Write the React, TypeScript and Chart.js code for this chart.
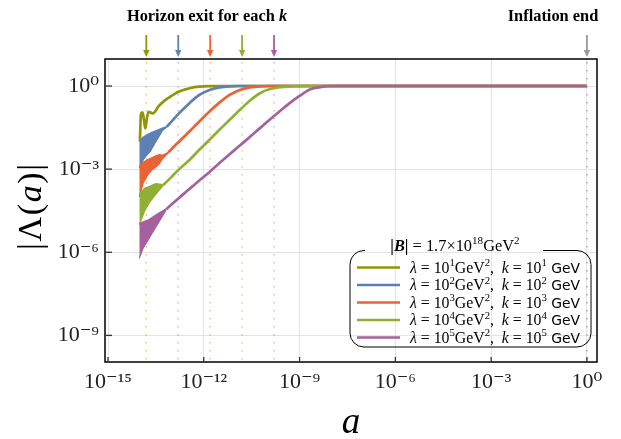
import React, { useEffect, useRef } from "react";
import { Chart, registerables } from "chart.js";

Chart.register(...registerables);

// ---------- data (log10 values) ----------
const COLORS = ["#929600", "#5E81B5", "#EB6235", "#8FB032", "#A5609D"];
const LAMBDA_EXP = ["1", "2", "3", "4", "5"];
const K_EXP = ["1", "2", "3", "4", "5"];
const B_FIELD = "1.7×10";
const B_EXP = "18";
const HORIZON_EXIT = [-13.8, -12.8, -11.8, -10.8, -9.8]; // log10 a
const INFLATION_END = 0; // log10 a

const X_TICKS = [-15, -12, -9, -6, -3, 0];
const Y_TICKS = [0, -3, -6, -9];
const X_RANGE = [-15.094, 0.315];
const Y_RANGE = [-9.96, 0.975];

// k = 10^1
const oliveX = [-14.0, -13.97, -13.92, -13.87, -13.83, -13.78, -13.73, -13.66, -13.59, -13.5, -13.43, -13.3, -13.2, -13.08, -12.92, -12.77, -12.6, -12.45, -12.3, -12.14, -11.82, -11.5, 0];
const oliveY = [-2.0, -1.02, -0.95, -1.25, -1.53, -1.15, -0.93, -0.96, -0.99, -0.88, -0.75, -0.6, -0.5, -0.41, -0.29, -0.2, -0.13, -0.08, -0.04, -0.02, -0.005, 0, 0];

// k = 10^2
const blueX = [-13.16, -13.08, -12.77, -12.45, -12.14, -11.82, -11.51, -11.19, -10.87, -10.5, 0];
const blueY = [-1.47, -1.37, -0.98, -0.62, -0.32, -0.14, -0.05, -0.01, 0, 0, 0];
const blueBandX = [-14.02, -13.9, -13.79, -13.68, -13.47, -13.3, -13.16];
const blueBandUp = [-1.97, -1.85, -1.77, -1.7, -1.6, -1.52, -1.46];
const blueBandLo = [-2.97, -2.67, -2.5, -2.37, -1.95, -1.62, -1.48];

// k = 10^3
const orangeX = [-13.11, -13.08, -12.77, -12.45, -12.14, -11.82, -11.51, -11.19, -10.87, -10.56, -10.24, -9.93, -9.5, 0];
const orangeY = [-2.4, -2.36, -2.0, -1.64, -1.28, -0.92, -0.6, -0.32, -0.14, -0.05, -0.01, 0, 0, 0];
const orangeBandX = [-14.02, -13.9, -13.75, -13.6, -13.47, -13.38, -13.3, -13.11];
const orangeBandUp = [-2.91, -2.75, -2.65, -2.57, -2.5, -2.48, -2.5, -2.39];
const orangeBandLo = [-4.0, -3.51, -3.2, -3.0, -2.9, -2.78, -2.64, -2.41];

// k = 10^4
const greenX = [-13.28, -13.08, -12.77, -12.45, -12.14, -11.82, -11.51, -11.19, -10.87, -10.56, -10.24, -9.93, -9.61, -9.3, -8.98, -8.5, 0];
const greenY = [-3.58, -3.36, -3.0, -2.67, -2.3, -1.94, -1.58, -1.22, -0.86, -0.53, -0.26, -0.11, -0.04, -0.01, 0, 0, 0];
const greenBandX = [-14.02, -13.84, -13.7, -13.5, -13.28];
const greenBandUp = [-3.88, -3.68, -3.62, -3.52, -3.56];
const greenBandLo = [-5.02, -4.48, -4.2, -3.9, -3.6];

// k = 10^5
const purpleX = [-13.18, -13.08, -12.77, -12.45, -12.14, -11.82, -11.51, -11.19, -10.87, -10.56, -10.24, -9.93, -9.61, -9.3, -9.0, -8.66, -8.35, -8.03, 0];
const purpleY = [-4.45, -4.35, -4.03, -3.72, -3.41, -3.1, -2.78, -2.46, -2.15, -1.84, -1.52, -1.21, -0.9, -0.61, -0.36, -0.12, -0.04, 0, 0];
const purpleBandX = [-14.02, -13.9, -13.75, -13.43, -13.18];
const purpleBandUp = [-4.96, -4.9, -4.84, -4.6, -4.43];
const purpleBandLo = [-6.22, -5.85, -5.56, -4.95, -4.47];

const SERIES = [
  { x: oliveX, y: oliveY, band: null as null | number[][] },
  { x: blueX, y: blueY, band: [blueBandX, blueBandUp, blueBandLo] },
  { x: orangeX, y: orangeY, band: [orangeBandX, orangeBandUp, orangeBandLo] },
  { x: greenX, y: greenY, band: [greenBandX, greenBandUp, greenBandLo] },
  { x: purpleX, y: purpleY, band: [purpleBandX, purpleBandUp, purpleBandLo] },
];

// ---------- helpers ----------
const SERIF = '"Liberation Serif", "DejaVu Serif", serif';
const SANS = '"DejaVu Sans", "Noto Sans", sans-serif';
const SUP: Record<string, string> = { "0": "⁰", "1": "¹", "2": "²", "3": "³", "4": "⁴", "5": "⁵", "6": "⁶", "7": "⁷", "8": "⁸", "9": "⁹", "-": "⁻" };
const toSup = (s: string) => s.split("").map((c) => SUP[c] || c).join("");
const pts = (xs: number[], ys: number[]) => xs.map((lx, i) => ({ x: Math.pow(10, lx), y: Math.pow(10, ys[i]) }));

function rgba(hex: string, a: number) {
  const n = parseInt(hex.slice(1), 16);
  return `rgba(${(n >> 16) & 255},${(n >> 8) & 255},${n & 255},${a})`;
}

type Seg = { t: string; s?: string; sup?: boolean; sans?: boolean };
function segFont(seg: Seg, size: number) {
  const sz = seg.sup ? size * 0.68 : size;
  const st = seg.s === "i" ? "italic " : seg.s === "b" ? "bold " : seg.s === "bi" ? "italic bold " : "";
  return `${st}${sz}px ${seg.sans ? SANS : SERIF}`;
}
function drawRich(ctx: CanvasRenderingContext2D, segs: Seg[], x: number, y: number, size: number, align: string, gap = 0, color = "#000") {
  let total = 0;
  const widths = segs.map((sg) => {
    ctx.font = segFont(sg, sg.sans ? size * 0.88 : size);
    const w = ctx.measureText(sg.t).width + gap;
    total += w;
    return w;
  });
  total -= gap;
  let cx = align === "center" ? x - total / 2 : align === "right" ? x - total : x;
  ctx.fillStyle = color;
  ctx.textBaseline = "alphabetic";
  ctx.textAlign = "left";
  segs.forEach((sg, i) => {
    ctx.font = segFont(sg, sg.sans ? size * 0.88 : size);
    ctx.fillText(sg.t, cx, sg.sup ? y - size * 0.4 : y);
    cx += widths[i];
  });
  return total;
}

const decorPlugin = {
  id: "decor",
  beforeDatasetsDraw(chart: any) {
    const { ctx, chartArea: ca, scales } = chart;
    const xs = scales.x;
    ctx.save();
    ctx.lineWidth = 1.4;
    ctx.setLineDash([1.4, 6.6]);
    HORIZON_EXIT.forEach((e, i) => {
      const px = xs.getPixelForValue(Math.pow(10, e));
      ctx.strokeStyle = rgba(COLORS[i], 0.5);
      ctx.beginPath();
      ctx.moveTo(px, ca.top + 3);
      ctx.lineTo(px, ca.bottom);
      ctx.stroke();
    });
    const pe = xs.getPixelForValue(Math.pow(10, INFLATION_END));
    ctx.strokeStyle = "rgba(140,140,140,0.75)";
    ctx.beginPath();
    ctx.moveTo(pe, ca.top + 3);
    ctx.lineTo(pe, ca.bottom);
    ctx.stroke();
    ctx.restore();
  },
  afterDraw(chart: any) {
    const { ctx, chartArea: ca, scales } = chart;
    const xs = scales.x;
    const ys = scales.y;
    ctx.save();
    // frame
    ctx.strokeStyle = "#000";
    ctx.lineWidth = 1.5;
    ctx.setLineDash([]);
    ctx.strokeRect(ca.left, ca.top, ca.right - ca.left, ca.bottom - ca.top);
    // inner ticks
    ctx.strokeStyle = "#333";
    ctx.lineWidth = 1.3;
    X_TICKS.forEach((e) => {
      const px = xs.getPixelForValue(Math.pow(10, e));
      ctx.beginPath();
      ctx.moveTo(px, ca.bottom);
      ctx.lineTo(px, ca.bottom - 5);
      ctx.stroke();
    });
    Y_TICKS.forEach((e) => {
      const py = ys.getPixelForValue(Math.pow(10, e));
      ctx.beginPath();
      ctx.moveTo(ca.left, py);
      ctx.lineTo(ca.left + 7, py);
      ctx.stroke();
    });
    // arrows
    const arrow = (px: number, color: string) => {
      ctx.strokeStyle = color;
      ctx.fillStyle = color;
      ctx.lineWidth = 1.8;
      ctx.beginPath();
      ctx.moveTo(px, 35);
      ctx.lineTo(px, 51);
      ctx.stroke();
      ctx.beginPath();
      ctx.moveTo(px - 3.2, 50);
      ctx.lineTo(px + 3.2, 50);
      ctx.lineTo(px, 57);
      ctx.closePath();
      ctx.fill();
    };
    HORIZON_EXIT.forEach((e, i) => arrow(xs.getPixelForValue(Math.pow(10, e)), COLORS[i]));
    arrow(xs.getPixelForValue(Math.pow(10, INFLATION_END)), "#999999");
    // titles
    drawRich(ctx, [{ t: "Horizon exit for each ", s: "b" }, { t: "k", s: "bi" }], 207, 21, 16.4, "center");
    drawRich(ctx, [{ t: "Inflation end", s: "b" }], 553, 21, 16.4, "center");
    // axis titles
    drawRich(ctx, [{ t: "a", s: "i" }], (ca.left + ca.right) / 2, 433, 37, "center");
    ctx.save();
    ctx.translate(31, 207);
    ctx.rotate(-Math.PI / 2);
    drawRich(ctx, [{ t: "|" }, { t: "Λ" }, { t: "(" }, { t: "a", s: "i" }, { t: ")" }, { t: "|" }], 0, 10, 34, "center", 1.6);
    ctx.restore();
    // legend
    const L = 350, R = 591, T = 250.5, B = 347, r = 14;
    const gapL = 365, gapR = 543;
    ctx.strokeStyle = "#000";
    ctx.lineWidth = 1;
    ctx.beginPath();
    ctx.moveTo(gapL, T);
    ctx.lineTo(L + r, T);
    ctx.arcTo(L, T, L, T + r, r);
    ctx.lineTo(L, B - r);
    ctx.arcTo(L, B, L + r, B, r);
    ctx.lineTo(R - r, B);
    ctx.arcTo(R, B, R, B - r, r);
    ctx.lineTo(R, T + r);
    ctx.arcTo(R, T, R - r, T, r);
    ctx.lineTo(gapR, T);
    ctx.stroke();
    drawRich(ctx, [{ t: "|", s: "b" }, { t: "B", s: "bi" }, { t: "|", s: "b" }, { t: " = " + B_FIELD }, { t: B_EXP, sup: true }, { t: "GeV" }, { t: "2", sup: true }], 455, 251, 16.4, "center");
    const rowY = [267.5, 285, 302.5, 320, 337.5];
    COLORS.forEach((c, i) => {
      const yy = rowY[i];
      ctx.strokeStyle = c;
      ctx.lineWidth = 2.6;
      ctx.beginPath();
      ctx.moveTo(357, yy);
      ctx.lineTo(400, yy);
      ctx.stroke();
      drawRich(ctx, [
        { t: "λ", s: "i" }, { t: " = 10" }, { t: LAMBDA_EXP[i], sup: true }, { t: "GeV" }, { t: "2", sup: true }, { t: ",  " },
        { t: "k", s: "i" }, { t: " = 10" }, { t: K_EXP[i], sup: true }, { t: " GeV", sans: true },
      ], 410, yy + 5, 15.8, "left");
    });
    ctx.restore();
  },
};

export default function App() {
  const ref = useRef<HTMLCanvasElement | null>(null);
  useEffect(() => {
    document.body.style.margin = "0";
    const datasets: any[] = [];
    SERIES.forEach((s, i) => {
      const order = SERIES.length - i;
      datasets.push({
        data: pts(s.x, s.y),
        borderColor: COLORS[i],
        backgroundColor: COLORS[i],
        borderWidth: 2.7,
        pointRadius: 0,
        cubicInterpolationMode: "monotone",
        fill: false,
        order,
      });
      if (s.band) {
        datasets.push({
          data: pts(s.band[0], s.band[1]),
          borderColor: COLORS[i],
          backgroundColor: COLORS[i],
          borderWidth: 1.2,
          pointRadius: 0,
          fill: "+1",
          order,
        });
        datasets.push({
          data: pts(s.band[0], s.band[2]),
          borderColor: COLORS[i],
          backgroundColor: COLORS[i],
          borderWidth: 1.2,
          pointRadius: 0,
          fill: false,
          order,
        });
      }
    });
    const tickFont = { family: SERIF, size: 22 };
    const chart = new Chart(ref.current as HTMLCanvasElement, {
      type: "line",
      data: { datasets },
      plugins: [decorPlugin],
      options: {
        animation: false,
        responsive: false,
        devicePixelRatio: 1,
        layout: { padding: { left: 0, right: 24, top: 59, bottom: 0 } },
        plugins: { legend: { display: false }, tooltip: { enabled: false } },
        scales: {
          x: {
            type: "logarithmic",
            min: Math.pow(10, X_RANGE[0]),
            max: Math.pow(10, X_RANGE[1]),
            afterBuildTicks: (sc: any) => { sc.ticks = X_TICKS.map((e) => ({ value: Math.pow(10, e) })); },
            afterFit: (sc: any) => { sc.height = 77; },
            grid: { color: "#e4e4e4", lineWidth: 1, drawTicks: false },
            border: { display: false },
            ticks: {
              autoSkip: false,
              maxRotation: 0,
              padding: 7,
              color: "#222",
              font: tickFont,
              callback: (v: any) => "10" + toSup(String(Math.round(Math.log10(Number(v))))),
            },
          },
          y: {
            type: "logarithmic",
            min: Math.pow(10, Y_RANGE[0]),
            max: Math.pow(10, Y_RANGE[1]),
            afterBuildTicks: (sc: any) => { sc.ticks = Y_TICKS.map((e) => ({ value: Math.pow(10, e) })); },
            afterFit: (sc: any) => { sc.width = 105; },
            grid: { color: "#e4e4e4", lineWidth: 1, drawTicks: false },
            border: { display: false },
            ticks: {
              autoSkip: false,
              padding: 6,
              color: "#222",
              font: tickFont,
              callback: (v: any) => "10" + toSup(String(Math.round(Math.log10(Number(v))))),
            },
          },
        },
      } as any,
    });
    return () => chart.destroy();
  }, []);
  return (
    <div style={{ position: "absolute", left: 0, top: 0, width: 621, height: 439 }}>
      <canvas ref={ref} width={621} height={439} style={{ display: "block" }} />
    </div>
  );
}
